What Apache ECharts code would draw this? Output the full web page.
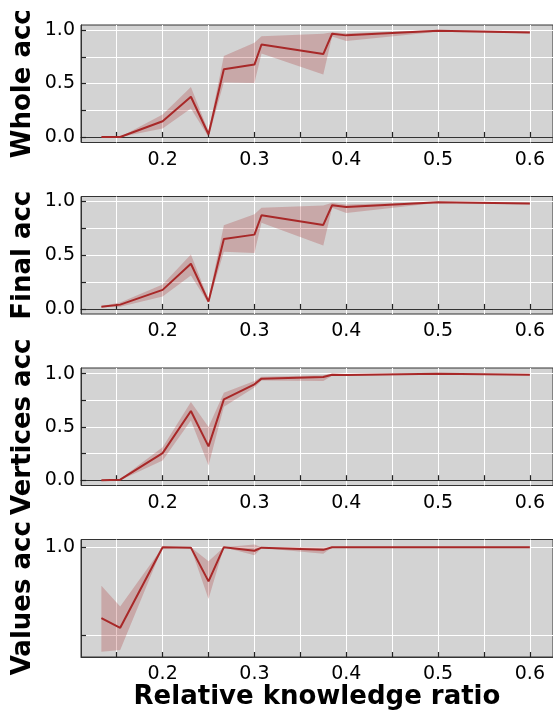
<!DOCTYPE html>
<html>
<head>
<meta charset="utf-8">
<script src="https://cdn.jsdelivr.net/npm/echarts@6/dist/echarts.min.js"></script>
<style>
html,body{margin:0;padding:0;background:#fff;}
#chart{width:553px;height:710px;}
</style>
</head>
<body>
<div id="chart"></div>
<script>
// ---- data ----
const xRatio = [0.1333, 0.1538, 0.2, 0.2308, 0.25, 0.2667, 0.3, 0.3077, 0.375, 0.3846, 0.4, 0.5, 0.6];

const wholeMean = [0.0, 0.0, 0.147, 0.376, 0.025, 0.634, 0.677, 0.865, 0.775, 0.965, 0.95, 0.994, 0.978];
const wholeLo   = [0.0, 0.0, 0.078, 0.265, 0.0, 0.51, 0.505, 0.78, 0.583, 0.94, 0.897, 0.985, 0.97];
const wholeHi   = [0.0, 0.0, 0.21, 0.467, 0.05, 0.757, 0.88, 0.941, 0.965, 0.98, 0.97, 1.0, 0.99];

const finalMean = [0.021, 0.04, 0.177, 0.42, 0.068, 0.65, 0.69, 0.87, 0.78, 0.963, 0.947, 0.99, 0.979];
const finalLo   = [0.015, 0.02, 0.115, 0.31, 0.05, 0.53, 0.52, 0.80, 0.59, 0.94, 0.89, 0.985, 0.97];
const finalHi   = [0.027, 0.06, 0.226, 0.506, 0.09, 0.776, 0.88, 0.94, 0.96, 0.985, 0.97, 0.995, 0.985];

const vertMean = [0.0, 0.005, 0.254, 0.649, 0.317, 0.758, 0.9, 0.953, 0.968, 0.99, 0.987, 1.0, 0.99];
const vertLo   = [0.0, 0.0, 0.185, 0.561, 0.138, 0.69, 0.87, 0.935, 0.93, 0.98, 0.98, 0.995, 0.985];
const vertHi   = [0.0, 0.01, 0.31, 0.733, 0.498, 0.82, 0.93, 0.97, 0.985, 1.0, 0.995, 1.0, 0.995];

const valMean = [0.920, 0.909, 1.0, 0.9995, 0.9614, 1.0, 0.996, 0.9995, 0.997, 1.0, 1.0, 1.0, 1.0];
const valLo   = [0.882, 0.884, 1.0, 0.999, 0.9416, 1.0, 0.991, 0.999, 0.9925, 1.0, 1.0, 1.0, 1.0];
const valHi   = [0.9566, 0.933, 1.0, 1.0, 0.984, 1.0, 1.003, 1.0, 1.0, 1.0, 1.0, 1.0, 1.0];

const panelNames = ['Whole acc', 'Final acc', 'Vertices acc', 'Values acc'];
const xLabel = 'Relative knowledge ratio';
const xTickLabels = [0.2, 0.3, 0.4, 0.5, 0.6];
const xGridValues = [0.15, 0.2, 0.25, 0.3, 0.35, 0.4, 0.45, 0.5, 0.55, 0.6];
const yTickLabels = [0.0, 0.5, 1.0];
const yGridValues = [0.0, 0.25, 0.5, 0.75, 1.0];
const valTickLabels = [1.0];
const valGridValues = [0.9, 1.0];

// ---- layout / style ----
const FONT = 'DejaVu Sans';
const LINE = '#a82828';
const BAND = 'rgba(168,40,40,0.25)';
const tops = [25, 196.5, 368, 539.5];
const H = 117.5, LEFT = 81, W = 474;
const xMin = 0.1111, xMax = 0.1111 + W / 922;
const yRanges = [[-0.052, 1.047], [-0.047, 1.044], [-0.050, 1.053], [0.876, 1.0087]];

const panels = [
  {mean: wholeMean, lo: wholeLo, hi: wholeHi, labels: yTickLabels, grid: yGridValues},
  {mean: finalMean, lo: finalLo, hi: finalHi, labels: yTickLabels, grid: yGridValues},
  {mean: vertMean, lo: vertLo, hi: vertHi, labels: yTickLabels, grid: yGridValues},
  {mean: valMean, lo: valLo, hi: valHi, labels: valTickLabels, grid: valGridValues}
];

function bandRender(params, api) {
  if (params.dataIndexInside !== 0) return null;
  const n = params.dataInsideLength;
  const upper = [], lower = [];
  for (let k = 0; k < n; k++) {
    const x = api.value(0, k);
    upper.push(api.coord([x, api.value(2, k)]));
    lower.push(api.coord([x, api.value(1, k)]));
  }
  const pts = upper.concat(lower.reverse());
  return {type: 'polygon', shape: {points: pts}, style: {fill: BAND, stroke: null}};
}

const grids = [], xAxes = [], yAxes = [], series = [], graphics = [];
panels.forEach((p, i) => {
  grids.push({left: LEFT, top: tops[i], width: W, height: H, show: true,
    backgroundColor: '#d3d3d3', borderColor: '#333', borderWidth: 1, containLabel: false});
  xAxes.push({type: 'value', gridIndex: i, min: xMin, max: xMax,
    axisLine: {show: true, lineStyle: {color: '#333', width: 1}},
    axisTick: {show: true, inside: true, length: 5, customValues: xGridValues, lineStyle: {color: '#222', width: 1.2}},
    axisLabel: {show: true, customValues: xTickLabels, margin: 8, fontFamily: FONT, fontSize: 19, color: '#000',
      formatter: v => v.toFixed(1)},
    splitLine: {show: true, lineStyle: {color: '#fff', width: 1}}
  });
  yAxes.push({type: 'value', gridIndex: i, min: yRanges[i][0], max: yRanges[i][1],
    axisLine: {show: true, lineStyle: {color: '#333', width: 1}},
    axisTick: {show: true, inside: true, length: 5, customValues: p.grid, lineStyle: {color: '#222', width: 1.2}},
    axisLabel: {show: true, customValues: p.labels, margin: 6, fontFamily: FONT, fontSize: 19, color: '#000',
      formatter: v => v.toFixed(1)},
    splitLine: {show: true, lineStyle: {color: '#fff', width: 1}}
  });
  series.push({type: 'custom', xAxisIndex: i, yAxisIndex: i, silent: true, clip: true,
    renderItem: bandRender, encode: {x: 0, y: [1, 2]},
    data: xRatio.map((x, k) => [x, p.lo[k], p.hi[k]]), z: 2});
  series.push({type: 'line', xAxisIndex: i, yAxisIndex: i, symbol: 'none', silent: true,
    lineStyle: {color: LINE, width: 2}, data: xRatio.map((x, k) => [x, p.mean[k]]), z: 3});
  graphics.push({type: 'text', x: 23, y: tops[i] + H / 2, rotation: Math.PI / 2,
    style: {text: panelNames[i], font: 'bold 26px "DejaVu Sans"', fill: '#000',
      align: 'center', verticalAlign: 'middle'}});
});
graphics.push({type: 'text', x: LEFT + 236, y: 697,
  style: {text: xLabel, font: 'bold 26px "DejaVu Sans"', fill: '#000', align: 'center', verticalAlign: 'middle'}});

const chart = echarts.init(document.getElementById('chart'), null, {renderer: 'canvas'});
chart.setOption({
  animation: false,
  backgroundColor: '#fff',
  grid: grids, xAxis: xAxes, yAxis: yAxes, series: series, graphic: graphics
});
</script>
</body>
</html>
